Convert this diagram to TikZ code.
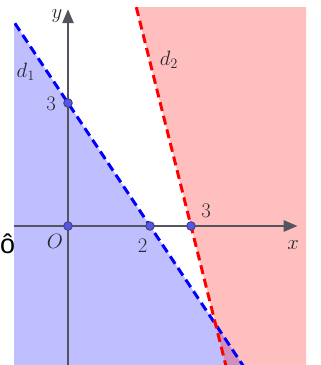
\documentclass[tikz,border=0pt]{standalone}
\usepackage{fontspec}
\newfontfamily\artfont{Liberation Sans}
\usetikzlibrary{arrows.meta}
\definecolor{axisgray}{RGB}{85,85,95}
\definecolor{ptblue}{RGB}{85,85,235}
\definecolor{labgray}{RGB}{40,40,50}
\tikzset{
  axisline/.style={draw=axisgray,line width=2.6pt,-{Triangle[length=14pt,width=11pt]}},
  dline/.style={line width=3pt,dash pattern=on 9pt off 5pt},
  pt/.style={circle,fill=ptblue,draw=axisgray!80!blue,line width=1pt,inner sep=0pt,minimum size=8.5pt},
  lab/.style={text=labgray,inner sep=0pt,font=\fontsize{22}{26}\selectfont}
}
\begin{document}
\begin{tikzpicture}[x=41pt,y=41pt]
\useasboundingbox (-1.6585,-3.3902) rectangle (6.1463,5.5122);
\begin{scope}
\clip (-1.317,-3.3902) rectangle (5.805,5.341);
\fill[blue,fill opacity=0.25] (-3,7.5) -- (7,-7.5) -- (-3,-7.5) -- cycle;
\fill[red,fill opacity=0.25] (1.5,6) -- (4,-4) -- (7,-4) -- (7,6) -- cycle;
\draw[dline,blue] (-3,7.5) -- (7,-7.5);
\draw[dline,red] (1.5,6) -- (4,-4);
\end{scope}
\coordinate (xs) at (-1.317,0);
\coordinate (xe) at (5.6,0);
\coordinate (ys) at (0,-3.3902);
\coordinate (ye) at (0,5.29);
\draw[axisline] (xs) -- (xe);
\draw[axisline] (ys) -- (ye);
\node[pt] (O) at (0,0) {};
\node[pt] (A) at (2,0) {};
\node[pt] (B) at (3,0) {};
\node[pt] (C) at (0,3) {};
\node[lab] (ly) at (-0.27,5.12) {$y$};
\node[lab] (lx) at (5.49,-0.46) {$x$};
\node[lab] (ld1) at (-1.03,3.76) {$d_1$};
\node[lab] (ld2) at (2.46,4.05) {$d_2$};
\node[lab] (l3y) at (-0.41,2.98) {$3$};
\node[lab] (lO) at (-0.32,-0.37) {$O$};
\node[lab] (l2) at (1.82,-0.48) {$2$};
\node[lab] (l3x) at (3.37,0.38) {$3$};
\node[inner sep=0pt,anchor=base west,font=\artfont\fontsize{27}{30}\selectfont] (art) at (-1.6585,-0.67) {ô};
\end{tikzpicture}
\end{document}
